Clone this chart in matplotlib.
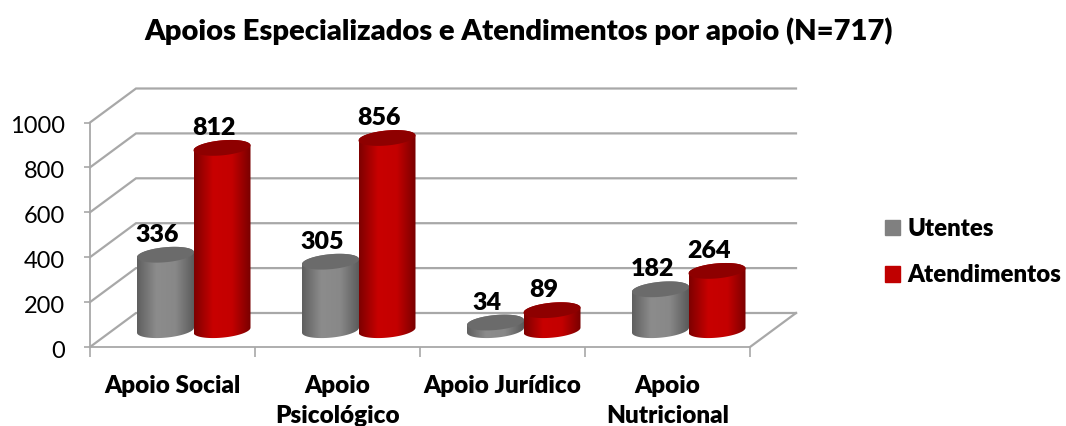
import numpy as np
import matplotlib.pyplot as plt
from matplotlib.patches import Patch, PathPatch
from matplotlib.path import Path
from matplotlib.colors import LinearSegmentedColormap
from matplotlib.transforms import ScaledTranslation

categories = ['Apoio Social', 'Apoio\nPsicológico', 'Apoio Jurídico', 'Apoio\nNutricional']
utentes = [336, 305, 34, 182]
atendimentos = [812, 856, 89, 264]
y_ticks = [0, 200, 400, 600, 800, 1000]

plt.rcParams['font.family'] = ['Lato', 'DejaVu Sans']
bold = 'heavy'

W, H = 1066, 426
fig = plt.figure(figsize=(W / 100, H / 100), dpi=100)
# front plane of the fake 3d box, in pixels
left, right, top, bottom = 90, 750, 122.5, 347
ax = fig.add_axes([left / W, 1 - bottom / H, (right - left) / W, (bottom - top) / H])
ax.set_xlim(0, 4)
ax.set_ylim(0, 1000)

px_x = 4 / (right - left)
px_y = 1000 / (bottom - top)
depth_x = 46 * px_x
depth_y = 34 * px_y
grid_c = '#a8a8a8'

# walls and floor
for v in y_ticks:
    ax.plot([0, depth_x, 4 + depth_x], [v, v + depth_y, v + depth_y], color=grid_c, lw=1.6,
            clip_on=False, zorder=1, solid_joinstyle='miter')
ax.plot([4, 4 + depth_x], [0, depth_y], color=grid_c, lw=1.6, clip_on=False, zorder=1)

for s in ['top', 'right']:
    ax.spines[s].set_visible(False)
for s in ['left', 'bottom']:
    ax.spines[s].set_color(grid_c)
    ax.spines[s].set_linewidth(1.3)
ax.patch.set_alpha(0)

ax.set_yticks(y_ticks)
ax.tick_params(axis='y', labelsize=17, color=grid_c, length=4, width=1.2, pad=14)
# labels sit a touch lower than matplotlib centres them
shift = ScaledTranslation(0, -2 / 100, fig.dpi_scale_trans)
for lab in ax.get_yticklabels():
    lab.set_transform(lab.get_transform() + shift)
ax.set_xticks(range(5))
ax.set_xticklabels([])
ax.tick_params(axis='x', which='major', color=grid_c, length=7, width=1.2)
ax.set_xticks(np.arange(4) + 0.5, categories, minor=True, fontsize=17.5, fontweight=bold, linespacing=1.45)
ax.tick_params(axis='x', which='minor', length=0, pad=20)
for lab in ax.get_xticklabels(minor=True):
    lab.set_verticalalignment('top')

gray_cmap = LinearSegmentedColormap.from_list('g', ['#5f5f5f', '#8c8c8c', '#888888', '#5a5a5a'])
red_cmap = LinearSegmentedColormap.from_list('r', ['#7e0000', '#c80000', '#c40000', '#780000'])

half_w = 28.5 * px_x
half_h = 7.5 * px_y
shear = 2.5 * px_y / half_w  # ellipses lean up to the right
base = 75


def ellipse_xy(cx, cy, t):
    return cx + half_w * np.cos(t), cy + half_h * np.sin(t) + shear * half_w * np.cos(t)


def cylinder(cx, value, cmap, top_color, z):
    t_low = np.linspace(np.pi, 2 * np.pi, 60)
    t_up = np.linspace(0, np.pi, 60)
    x1, y1 = ellipse_xy(cx, base, t_low)
    x2, y2 = ellipse_xy(cx, base + value, t_up)
    pts = np.column_stack([np.r_[x1, x2], np.r_[y1, y2]])
    clip = PathPatch(Path(np.vstack([pts, pts[0]]), closed=True), transform=ax.transData, fc='none', ec='none')
    ax.add_patch(clip)
    grad = np.linspace(0, 1, 128).reshape(1, -1)
    im = ax.imshow(grad, cmap=cmap, aspect='auto', zorder=z, interpolation='bilinear',
                   extent=[cx - half_w, cx + half_w, 0, base + value + half_h * 3])
    im.set_clip_path(clip)
    xt, yt = ellipse_xy(cx, base + value, np.linspace(0, 2 * np.pi, 120))
    ax.fill(xt, yt, color=top_color, zorder=z + 0.1, clip_on=False, lw=0)


for i in range(len(categories)):
    gx = i + (165.5 - left) * px_x
    rx = i + (222 - left) * px_x
    cylinder(gx, utentes[i], gray_cmap, '#6b6b6b', 3)
    cylinder(rx, atendimentos[i], red_cmap, '#8e0000', 4)
    for cx, v in ((gx, utentes[i]), (rx, atendimentos[i])):
        ax.annotate(str(v), (cx, base + v), xytext=(-8 * 0.72, 20 * 0.72), textcoords='offset points',
                    ha='center', va='center', fontsize=18, fontweight=bold, zorder=6, annotation_clip=False)

ax.set_xlim(0, 4)
ax.set_ylim(0, 1000)

fig.text(519 / W, 1 - 31 / H, 'Apoios Especializados e Atendimentos por apoio (N=717)',
         ha='center', va='center', fontsize=21, fontweight=bold)

handles = [Patch(color='#808080', label='Utentes'), Patch(color='#c00000', label='Atendimentos')]
fig.legend(handles=handles, loc='center left', bbox_to_anchor=(885 / W, 1 - 252 / H), frameon=False,
           prop={'weight': bold, 'size': 17.3}, handlelength=0.62, handleheight=0.62, handletextpad=0.3,
           labelspacing=1.02, borderpad=0, borderaxespad=0)

fig.savefig('out.png', dpi=100)
